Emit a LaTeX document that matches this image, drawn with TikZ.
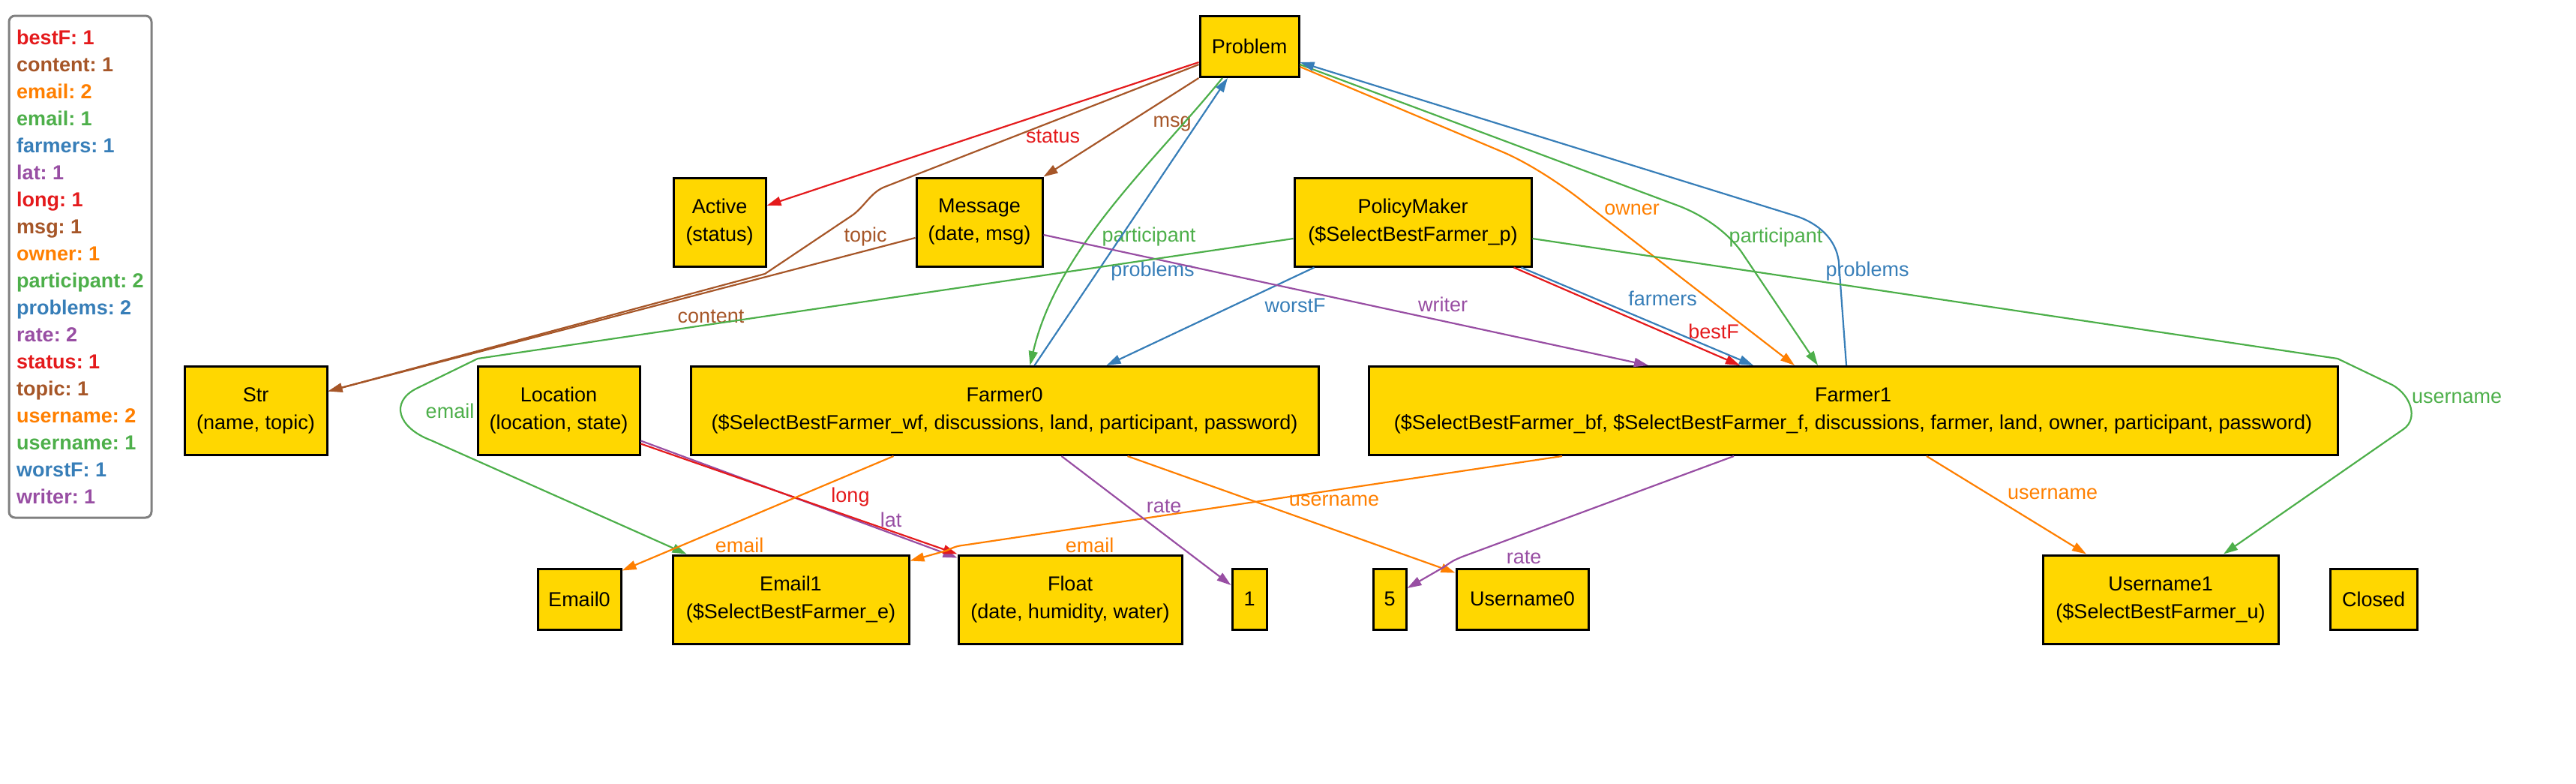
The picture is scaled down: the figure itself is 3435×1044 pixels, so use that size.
\documentclass[tikz,border=0pt]{standalone}
\usepackage{fontspec}
\setmainfont{Liberation Sans}
\usepackage{xcolor}
\usepackage{tikz}
\usetikzlibrary{arrows.meta}
\definecolor{atomgold}{HTML}{FFD700}
\definecolor{legendgray}{HTML}{808080}
\definecolor{relred}{HTML}{E41A1C}
\definecolor{relblue}{HTML}{377EB8}
\definecolor{relgreen}{HTML}{4DAF4A}
\definecolor{relpurple}{HTML}{984EA3}
\definecolor{relorange}{HTML}{FF7F00}
\definecolor{relbrown}{HTML}{A65628}
\tikzstyle{atombox} = [rectangle, fill=atomgold, draw=black, line width=1.5pt,
inner sep=0pt, align=center, font=\fontsize{13.5}{18.5}\selectfont]
\tikzstyle{oneline} = [atombox, minimum height=40.5pt]
\tikzstyle{twoline} = [atombox, minimum height=59pt]
\tikzstyle{legendbox} = [rectangle, rounded corners=4pt, draw=legendgray, line width=1.5pt,
minimum width=95pt, minimum height=334.5pt, inner sep=2pt,
align=left, font=\frenchspacing\bfseries\fontsize{13.5}{18}\selectfont]
\tikzstyle{rel} = [-{Triangle[length=9.5pt, width=6pt]}, line width=1.1pt]
\tikzstyle{rellabel} = [inner sep=0pt, font=\fontsize{13.5}{16}\selectfont]

\begin{document}
\begin{tikzpicture}[x=0.5pt, y=-0.5pt]
    \useasboundingbox (0,0) rectangle (3435,1044);

    \node (legend) [legendbox] at (107,355.5)
    {\textcolor{relred}{bestF: 1}\\
     \textcolor{relbrown}{content: 1}\\
     \textcolor{relorange}{email: 2}\\
     \textcolor{relgreen}{email: 1}\\
     \textcolor{relblue}{farmers: 1}\\
     \textcolor{relpurple}{lat: 1}\\
     \textcolor{relred}{long: 1}\\
     \textcolor{relbrown}{msg: 1}\\
     \textcolor{relorange}{owner: 1}\\
     \textcolor{relgreen}{participant: 2}\\
     \textcolor{relblue}{problems: 2}\\
     \textcolor{relpurple}{rate: 2}\\
     \textcolor{relred}{status: 1}\\
     \textcolor{relbrown}{topic: 1}\\
     \textcolor{relorange}{username: 2}\\
     \textcolor{relgreen}{username: 1}\\
     \textcolor{relblue}{worstF: 1}\\
     \textcolor{relpurple}{writer: 1}};

    \node (prob) [oneline, minimum width=66pt] at (1666,62) {Problem};
    \node (act) [twoline, minimum width=61.5pt] at (959.5,296) {Active\\(status)};
    \node (msg) [twoline, minimum width=84pt] at (1306,296) {Message\\(date, msg)};
    \node (pm) [twoline, minimum width=158pt] at (1884,296)
    {PolicyMaker\\(\$SelectBestFarmer\_p)};
    \node (str) [twoline, minimum width=95pt] at (341,547.5) {Str\\(name, topic)};
    \node (loc) [twoline, minimum width=108pt] at (745,547.5) {Location\\(location, state)};
    \node (f0) [twoline, minimum width=418.5pt] at (1339.5,547.5)
    {Farmer0\\(\$SelectBestFarmer\_wf, discussions, land, participant, password)};
    \node (f1) [twoline, minimum width=646pt] at (2471,547.5)
    {Farmer1\\(\$SelectBestFarmer\_bf, \$SelectBestFarmer\_f, discussions, farmer, land, owner, participant, password)};
    \node (e0) [oneline, minimum width=55.5pt] at (772.5,798.5) {Email0};
    \node (e1) [twoline, minimum width=157.5pt] at (1054.5,799) {Email1\\(\$SelectBestFarmer\_e)};
    \node (flt) [twoline, minimum width=149pt] at (1427,799) {Float\\(date, humidity, water)};
    \node (one) [oneline, minimum width=23pt] at (1666,798.5) {1};
    \node (five) [oneline, minimum width=22pt] at (1853,798.5) {5};
    \node (u0) [oneline, minimum width=88pt] at (2030,798.5) {Username0};
    \node (u1) [twoline, minimum width=157pt] at (2881,799) {Username1\\(\$SelectBestFarmer\_u)};
    \node (closed) [oneline, minimum width=58pt] at (3165,798.5) {Closed};

    \draw[rel, relred] ([yshift=-10.5pt]prob.west) -- ([yshift=11pt]act.east)
    node[rellabel] at (1404,182) {status};
    \draw[rel, relbrown] (prob.south west) -- (msg.north east)
    node[rellabel] at (1563,165) {msg};
    \draw[rel, relbrown] ([yshift=-12pt]prob.west) -- (1180,249)
    .. controls (1161,256) and (1152,277) .. (1135,288) -- (1020,365) -- ([yshift=13pt]str.east)
    node[rellabel] at (948,422) {content};
    \draw[rel, relbrown] ([yshift=-10.5pt]msg.west) -- ([yshift=13pt]str.east)
    node[rellabel] at (1154,316) {topic};
    \draw[rel, relgreen] ([xshift=-18pt]prob.south) .. controls (1540,215) and (1410,330) .. ([xshift=17pt]f0.north)
    node[rellabel] at (1532,316) {participant};
    \draw[rel, relblue] ([xshift=20pt]f0.north) -- ([xshift=-14.5pt]prob.south)
    node[rellabel] at (1537,362) {problems};
    \draw[rel, relorange] ([yshift=-13.5pt]prob.east) -- (2000,201)
    .. controls (2037,216) and (2084,247) .. (2115,272) -- ([xshift=-39pt]f1.north)
    node[rellabel] at (2176,279) {owner};
    \draw[rel, relgreen] ([yshift=-12pt]prob.east) -- (2240,275)
    .. controls (2278,290) and (2309,315) .. (2325,340) -- ([xshift=-23.5pt]f1.north)
    node[rellabel] at (2368,317) {participant};
    \draw[rel, relblue] ([xshift=-4.5pt]f1.north) -- (2452,350)
    .. controls (2449,318) and (2423,297) .. (2395,288) -- ([yshift=-10.5pt]prob.east)
    node[rellabel] at (2490,362) {problems};
    \draw[rel, relred] ([xshift=-12.5pt]pm.south east) -- ([xshift=-75.5pt]f1.north)
    node[rellabel] at (2285,442) {bestF};
    \draw[rel, relblue] ([xshift=-7.5pt]pm.south east) -- ([xshift=-66.5pt]f1.north)
    node[rellabel] at (2217,398) {farmers};
    \draw[rel, relblue] ([xshift=14pt]pm.south west) -- ([xshift=68pt]f0.north)
    node[rellabel] at (1727,407) {worstF};
    \draw[rel, relpurple] ([yshift=-8.5pt]msg.east) -- ([xshift=-136.5pt]f1.north)
    node[rellabel] at (1924,406) {writer};
    \draw[rel, relgreen] ([yshift=-11pt]pm.west) -- (637,478) -- (555,518)
    .. controls (520,536) and (530,570) .. (575,587) -- ([xshift=10pt]e1.north west)
    node[rellabel] at (600,548) {email};
    \draw[rel, relgreen] ([yshift=-11pt]pm.east) -- (3117,478) -- (3190,513)
    .. controls (3215,527) and (3225,558) .. (3205,572) -- ([xshift=42pt]u1.north)
    node[rellabel] at (3276,530) {username};
    \draw[rel, relpurple] ([yshift=-20pt]loc.east) -- ([yshift=-2.5pt]flt.north west)
    node[rellabel] at (1188,693) {lat};
    \draw[rel, relred] ([yshift=-22pt]loc.east) -- (flt.north west)
    node[rellabel] at (1134,663) {long};
    \draw[rel, relorange] ([xshift=-74pt]f0.south) -- ([yshift=-2pt]e0.north east)
    node[rellabel] at (986,727) {email};
    \draw[rel, relorange] ([xshift=-194pt]f1.south) -- (1290,726)
    .. controls (1275,728) .. (1262,734) -- ([yshift=-4.5pt]e1.north east)
    node[rellabel] at (1453,727) {email};
    \draw[rel, relpurple] ([xshift=38pt]f0.south) -- ([yshift=9.25pt]one.west)
    node[rellabel] at (1552,675) {rate};
    \draw[rel, relorange] ([xshift=82pt]f0.south) -- ([yshift=-3.5pt]u0.north west)
    node[rellabel] at (1779,667) {username};
    \draw[rel, relpurple] ([xshift=-79.5pt]f1.south) -- (1950,742)
    .. controls (1938,747) .. (1925,756) -- ([yshift=7.25pt]five.east)
    node[rellabel] at (2032,743) {rate};
    \draw[rel, relorange] ([xshift=49pt]f1.south) -- ([xshift=-49.5pt]u1.north)
    node[rellabel] at (2737,658) {username};
        \end{tikzpicture}
\end{document}
